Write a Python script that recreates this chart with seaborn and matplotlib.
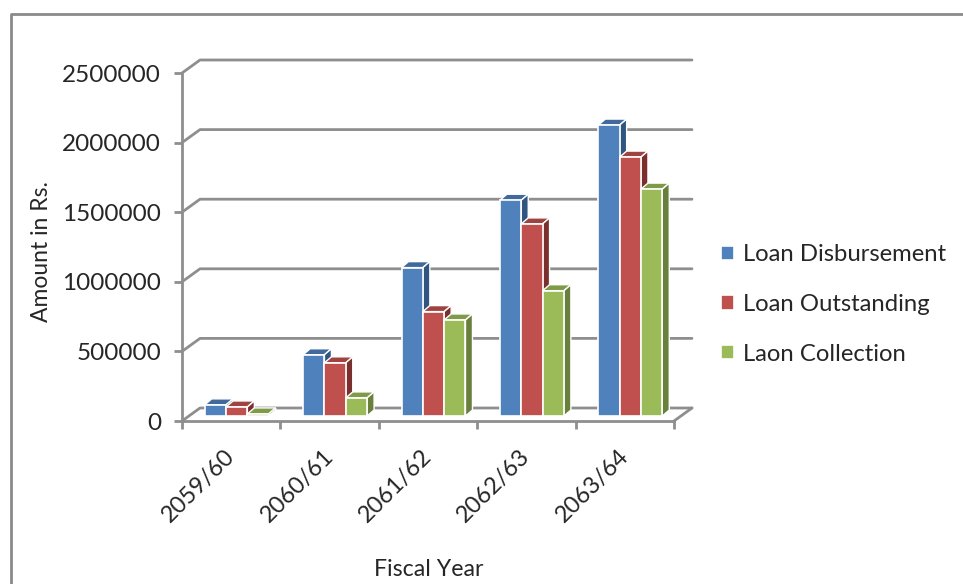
import matplotlib
matplotlib.use("Agg")
import matplotlib.pyplot as plt
from matplotlib.lines import Line2D
from matplotlib.patches import Polygon
from matplotlib.transforms import ScaledTranslation
import pandas as pd
import seaborn as sns

fiscal_years = ["2059/60", "2060/61", "2061/62", "2062/63", "2063/64"]
loan_disbursement = [80000, 440000, 1066000, 1550000, 2090000]
loan_outstanding = [65000, 382000, 750000, 1380000, 1860000]
laon_collection = [15000, 130000, 690000, 900000, 1630000]

series_names = ["Loan Disbursement", "Loan Outstanding", "Laon Collection"]
front_colors = ["#4F81BD", "#C0504D", "#9BBB59"]
top_colors = ["#41699B", "#9E4340", "#7F9A49"]
side_colors = ["#2F5580", "#7B302E", "#697F3C"]
grid_color = "#8E8E8E"
text_color = "#262626"
y_ticks = [0, 500000, 1000000, 1500000, 2000000, 2500000]
y_max = 2500000

W, H = 963, 584

table = pd.DataFrame({
    "year": fiscal_years * 3,
    "series": [n for n in series_names for _ in fiscal_years],
    "amount": loan_disbursement + loan_outstanding + laon_collection,
})

sns.set_theme(style="white")
plt.rcParams["font.family"] = ["Lato", "DejaVu Sans"]

fig = plt.figure(figsize=(W / 100, H / 100), dpi=100, facecolor="white")


def pixel_box(left, right, top, bottom):
    return [left / W, (H - bottom) / H, (right - left) / W, (bottom - top) / H]


# Front plane of the chart box carries the axes, ticks and labels.
ax = fig.add_axes(pixel_box(182, 674, 73, 421))
ax.set_xlim(-0.5, 4.5)
ax.set_ylim(0, y_max)
ax.patch.set_alpha(0)

x_per_px = 5 / (674 - 182)
y_per_px = y_max / (421 - 73)

# Back-wall gridlines, joined to the front axis by a short diagonal.
wall_dx = 18 * x_per_px
wall_dy = 13 * y_per_px
for v in y_ticks:
    ax.plot([-0.5, -0.5 + wall_dx, 4.5 + wall_dx], [v, v + wall_dy, v + wall_dy],
            color=grid_color, lw=2, clip_on=False, zorder=1, solid_capstyle="round")
ax.plot([4.5, 4.5 + wall_dx], [0, wall_dy], color=grid_color, lw=2,
        clip_on=False, zorder=1)

for name in ("top", "right"):
    ax.spines[name].set_visible(False)
for name in ("left", "bottom"):
    ax.spines[name].set_color(grid_color)
    ax.spines[name].set_linewidth(2)

ax.set_yticks(y_ticks, [str(v) for v in y_ticks])
ax.set_xticks([i - 0.5 for i in range(len(fiscal_years) + 1)], [""] * (len(fiscal_years) + 1))
ax.set_xticks(range(len(fiscal_years)), fiscal_years, minor=True)
ax.tick_params(axis="both", which="major", color=grid_color, width=2, length=5.5,
               left=True, bottom=True, labelsize=17.5, labelcolor=text_color)
ax.tick_params(axis="y", pad=9.5)
ax.tick_params(axis="x", which="minor", length=0, bottom=False, pad=18,
               labelsize=17, labelcolor=text_color)
label_shift = ScaledTranslation(-7 / 100, 0, fig.dpi_scale_trans)
for label in ax.get_xticklabels(minor=True):
    label.set_rotation(45)
    label.set_ha("right")
    label.set_rotation_mode("anchor")
    label.set_transform(label.get_transform() + label_shift)

ax.set_xlabel("Fiscal Year", fontsize=16.7, color=text_color)
ax.set_ylabel("Amount in Rs.", fontsize=16.5, color=text_color)
ax.xaxis.set_label_coords((429 - 182) / 492, (421 - 570) / 348, transform=ax.transAxes)
ax.yaxis.set_label_coords((41 - 182) / 492, (421 - 252) / 348, transform=ax.transAxes)
ax.xaxis.label.set_va("center")
ax.yaxis.label.set_va("center")

# The bars stand slightly behind the front plane.
bars = fig.add_axes(pixel_box(187.5, 679.5, 68, 416), zorder=3)
bars.patch.set_alpha(0)
sns.barplot(data=table, x="year", y="amount", hue="series", order=fiscal_years,
            hue_order=series_names, palette=front_colors, saturation=1, width=0.65,
            gap=0, edgecolor="white", linewidth=1.2, ax=bars, legend=True)
bars.set_xlim(-0.5, 4.5)
bars.set_ylim(0, y_max)

depth_dx = 7 * x_per_px
depth_dy = 6 * y_per_px
for hue_index, container in enumerate(bars.containers):
    base_z = 3 + hue_index
    for patch in container:
        x0, x1 = patch.get_x(), patch.get_x() + patch.get_width()
        h = patch.get_height()
        patch.set_zorder(base_z + 0.5)
        bars.add_patch(Polygon(
            [(x0, h), (x1, h), (x1 + depth_dx, h + depth_dy), (x0 + depth_dx, h + depth_dy)],
            facecolor=top_colors[hue_index], edgecolor="white", lw=1,
            clip_on=False, zorder=base_z))
        bars.add_patch(Polygon(
            [(x1, 0), (x1 + depth_dx, depth_dy), (x1 + depth_dx, h + depth_dy), (x1, h)],
            facecolor=side_colors[hue_index], edgecolor="white", lw=1,
            clip_on=False, zorder=base_z))
bars.axis("off")

handles, labels = bars.get_legend_handles_labels()
bars.get_legend().remove()
fig.legend(handles, labels, loc="center left",
           bbox_to_anchor=(721 / W, (H - 304.5) / H), frameon=False, fontsize=17.2,
           labelcolor=text_color, handlelength=0.55, handleheight=0.55,
           handletextpad=0.38, labelspacing=1.2, borderpad=0, borderaxespad=0)

# Chart-area border: visible along the top and left edges.
fig.add_artist(Line2D([11 / W, 11 / W, 1], [0, (H - 14) / H, (H - 14) / H],
                      color="#8A8A8A", lw=2, transform=fig.transFigure))

fig.savefig("out.png", dpi=100)
